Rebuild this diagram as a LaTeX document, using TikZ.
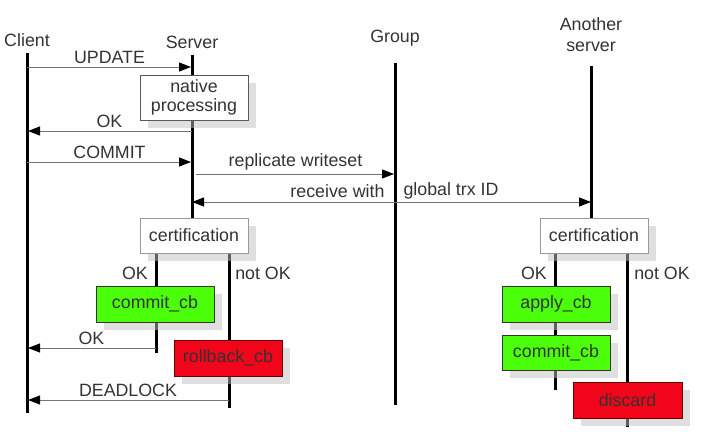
\documentclass[tikz,border=0pt]{standalone}
\usepackage{fontspec}
\setmainfont{Liberation Sans}
\usepackage{xcolor}
\usetikzlibrary{positioning,calc,arrows.meta,shadows}
\definecolor{okgreen}{HTML}{4CFF0A}
\definecolor{failred}{HTML}{F2051A}
\definecolor{txtgray}{HTML}{333333}
\begin{document}
\begin{tikzpicture}[x=1pt,y=-1pt,
	font=\fontsize{17.8}{21}\selectfont, text=txtgray,
	lifeline/.style={line width=3pt},
	msg/.style={draw=black!55, line width=0.9pt, shorten >=1pt, -{Triangle[length=12pt,width=9pt,color=black]}},
	both/.style={draw=black!55, line width=0.9pt, {Triangle[length=12pt,width=9pt,color=black]}-{Triangle[length=12pt,width=9pt,color=black]}},
	box/.style={draw=black!65, fill=white, minimum width=108pt, minimum height=36pt, inner sep=0pt, align=center,
		drop shadow={shadow xshift=8pt, shadow yshift=-8pt, fill=black!25, opacity=0.5}},
	certbox/.style={box, draw=black!40, minimum height=35pt},
	okbox/.style={box, draw=black!80, fill=okgreen},
	failbox/.style={box, draw=black!60!red, fill=failred}
	]
	\useasboundingbox (0,0) rectangle (728,446);
	% headers
	\node (client) at (27,40) {Client};
	\node (server) at (192,42) {Server};
	\node (group) at (395,38) {Group};
	\node[align=center] (other) at (591,35) {Another\\server};
	
	% lifelines
	\coordinate (c top) at (27,53);   \coordinate (c bot) at (27,413);
	\coordinate (s top) at (192,55);  \coordinate (s bot) at (192,218);
	\coordinate (g top) at (395,63);  \coordinate (g bot) at (395,405);
	\coordinate (o top) at (591,66);  \coordinate (o bot) at (591,218);
	\draw[lifeline] (c top) -- (c bot);
	\draw[lifeline] (s top) -- (s bot);
	\draw[lifeline] (g top) -- (g bot);
	\draw[lifeline] (o top) -- (o bot);
	
	% branches after certification
	\coordinate (okA) at (156,353);   \coordinate (failA) at (229,408);
	\coordinate (okB) at (555,390);   \coordinate (failB) at (627,427);
	\draw[lifeline] (okA |- 0,253) -- (okA);
	\draw[lifeline] (failA |- 0,253) -- (failA);
	\draw[lifeline] (okB |- 0,253) -- (okB);
	\draw[lifeline] (failB |- 0,253) -- (failB);
	
	% boxes
	\node[box, minimum height=45pt] (native) at (194,97.5) {native\\[-2pt]processing};
	\node[certbox] (certA) at (194,235.5) {certification};
	\node[certbox] (certB) at (594,235.5) {certification};
	\node[okbox, minimum width=118pt] (commitA) at (155,304) {commit\_cb};
	\node[failbox] (rollback) at (228,358) {rollback\_cb};
	\node[okbox] (apply) at (556,304) {apply\_cb};
	\node[okbox, minimum height=35pt] (commitB) at (556,352.5) {commit\_cb};
	\node[failbox, minimum width=109pt] (discard) at (627.5,400) {discard};
	
	% messages
	\draw[msg] (c top |- 0,67) -- node[above, inner sep=3pt] {UPDATE} (s top |- 0,67);
	\draw[msg] (s top |- 0,131) -- node[above, inner sep=3pt] {OK} (c top |- 0,131);
	\draw[msg] (c top |- 0,162) -- node[above, inner sep=3pt] {COMMIT} (s top |- 0,162);
	\draw[msg] ([xshift=4pt]s top |- 0,174) -- node[above, inner sep=3pt] {replicate writeset} (g top |- 0,174);
	\draw[both] (s top |- 0,202) -- (o top |- 0,202);
	\node[anchor=east] (recv) at (388,191) {receive with};
	\node[anchor=west] (gtrx) at (400,191) {global trx ID};
	\draw[msg] (okA |- 0,348) -- node[above, inner sep=3pt] {OK} (c top |- 0,348);
	\draw[msg] (failA |- 0,400) -- node[above, inner sep=3pt] {DEADLOCK} (c top |- 0,400);
	
	% branch labels
	\node (okLA) at (135,273) {OK};
	\node (failLA) at (263,273) {not OK};
	\node (okLB) at (534,273) {OK};
	\node (failLB) at (662,273) {not OK};
\end{tikzpicture}
\end{document}
